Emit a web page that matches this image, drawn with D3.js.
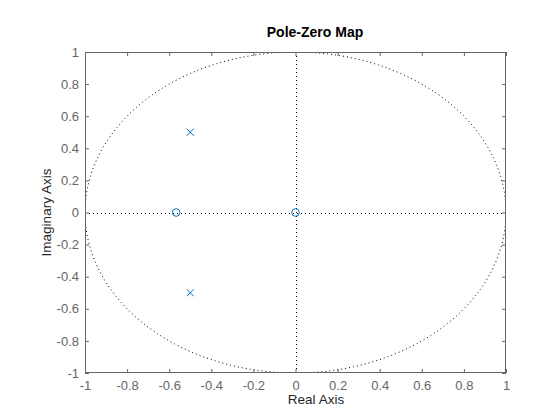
<!DOCTYPE html>
<html>
<head>
<meta charset="utf-8">
<script src="https://cdn.jsdelivr.net/npm/d3@7"></script>
<style>
  body { margin: 0; background: #fff; }
  svg { display: block; font-family: "Liberation Sans", Arial, sans-serif; }
</style>
</head>
<body>
<svg id="pz-svg" width="560" height="420"></svg>
<script>
// data
const pole_re = [-0.5, -0.5];
const pole_im = [0.5, -0.5];
const zero_re = [-0.567, 0];
const zero_im = [0, 0];
const tick_values = [-1, -0.8, -0.6, -0.4, -0.2, 0, 0.2, 0.4, 0.6, 0.8, 1];

function draw_pzmap() {
    const width = 560, height = 420;
    const margin = {left: 85, right: 54, top: 52, bottom: 47};
    const x0 = margin.left, x1 = width - margin.right;
    const y0 = margin.top, y1 = height - margin.bottom;

    const axis_color = "#666666";
    const marker_color = "#0072BD";

    const x = d3.scaleLinear().domain([-1, 1]).range([x0, x1]);
    const y = d3.scaleLinear().domain([-1, 1]).range([y1, y0]);

    const svg = d3.select("#pz-svg");

    svg.append("defs").append("clipPath").attr("id", "plot-clip")
        .append("rect")
        .attr("x", x0).attr("y", y0)
        .attr("width", x1 - x0).attr("height", y1 - y0);

    const plot = svg.append("g").attr("clip-path", "url(#plot-clip)");

    // unit circle
    const circle_pts = d3.range(0, 361, 1).map(a => [Math.cos(a * Math.PI / 180), Math.sin(a * Math.PI / 180)]);
    plot.append("path")
        .datum(circle_pts)
        .attr("d", d3.line().x(d => x(d[0])).y(d => y(d[1])))
        .attr("fill", "none")
        .attr("stroke", "#000")
        .attr("stroke-width", 1)
        .attr("stroke-dasharray", "1,3");

    // dotted zero lines
    plot.append("line")
        .attr("x1", x(-1)).attr("x2", x(1))
        .attr("y1", Math.round(y(0)) + 0.5).attr("y2", Math.round(y(0)) + 0.5)
        .attr("stroke", "#000").attr("stroke-dasharray", "1,3");
    plot.append("line")
        .attr("x1", Math.round(x(0)) + 0.5).attr("x2", Math.round(x(0)) + 0.5)
        .attr("y1", y(1)).attr("y2", y(-1))
        .attr("stroke", "#000").attr("stroke-dasharray", "1,3");

    // axes (ticks inward on all four sides)
    const tick_len = 4;
    const fmt = d => d3.format("")(d).replace("\u2212", "-");

    const xAxisB = d3.axisBottom(x).tickValues(tick_values).tickSizeInner(-tick_len).tickSizeOuter(0).tickPadding(8).tickFormat(fmt);
    const xAxisT = d3.axisTop(x).tickValues(tick_values).tickSizeInner(-tick_len).tickSizeOuter(0).tickFormat("");
    const yAxisL = d3.axisLeft(y).tickValues(tick_values).tickSizeInner(-tick_len).tickSizeOuter(0).tickPadding(6).tickFormat(fmt);
    const yAxisR = d3.axisRight(y).tickValues(tick_values).tickSizeInner(-tick_len).tickSizeOuter(0).tickFormat("");

    const axes = [
        [xAxisB, `translate(0,${y1})`],
        [xAxisT, `translate(0,${y0})`],
        [yAxisL, `translate(${x0},0)`],
        [yAxisR, `translate(${x1},0)`]
    ];
    axes.forEach(([ax, tr]) => {
        const g = svg.append("g").attr("transform", tr).call(ax);
        g.selectAll("path, line").attr("stroke", axis_color);
        g.selectAll("text")
            .attr("fill", axis_color)
            .style("font-size", "13px")
            .style("font-family", "'Liberation Sans', Arial, sans-serif");
        g.select(".domain").remove();
    });

    // box
    svg.append("rect")
        .attr("x", x0 + 0.5).attr("y", y0 + 0.5)
        .attr("width", x1 - x0 - 1).attr("height", y1 - y0 - 1)
        .attr("fill", "none")
        .attr("stroke", axis_color);

    // zeros
    svg.append("g").selectAll("circle")
        .data(zero_re.map((d, i) => [d, zero_im[i]]))
        .join("circle")
        .attr("cx", d => x(d[0]))
        .attr("cy", d => y(d[1]))
        .attr("r", 3.8)
        .attr("fill", "none")
        .attr("stroke", marker_color)
        .attr("stroke-width", 1);

    // poles
    const s = 3.5;
    svg.append("g").selectAll("path")
        .data(pole_re.map((d, i) => [d, pole_im[i]]))
        .join("path")
        .attr("d", d => {
            const cx = x(d[0]), cy = y(d[1]);
            return `M${cx - s},${cy - s}L${cx + s},${cy + s}M${cx - s},${cy + s}L${cx + s},${cy - s}`;
        })
        .attr("fill", "none")
        .attr("stroke", marker_color)
        .attr("stroke-width", 1);

    // labels
    svg.append("text")
        .attr("x", 315).attr("y", 37)
        .attr("text-anchor", "middle")
        .style("font-size", "14px")
        .style("font-weight", "bold")
        .attr("fill", "#000")
        .text("Pole-Zero Map");

    svg.append("text")
        .attr("x", 316).attr("y", 404)
        .attr("text-anchor", "middle")
        .style("font-size", "13.5px")
        .attr("fill", "#262626")
        .text("Real Axis");

    svg.append("text")
        .attr("transform", `translate(51,${(y0 + y1) / 2}) rotate(-90)`)
        .attr("text-anchor", "middle")
        .style("font-size", "13.5px")
        .attr("fill", "#262626")
        .text("Imaginary Axis");
}

draw_pzmap();
</script>
</body>
</html>
